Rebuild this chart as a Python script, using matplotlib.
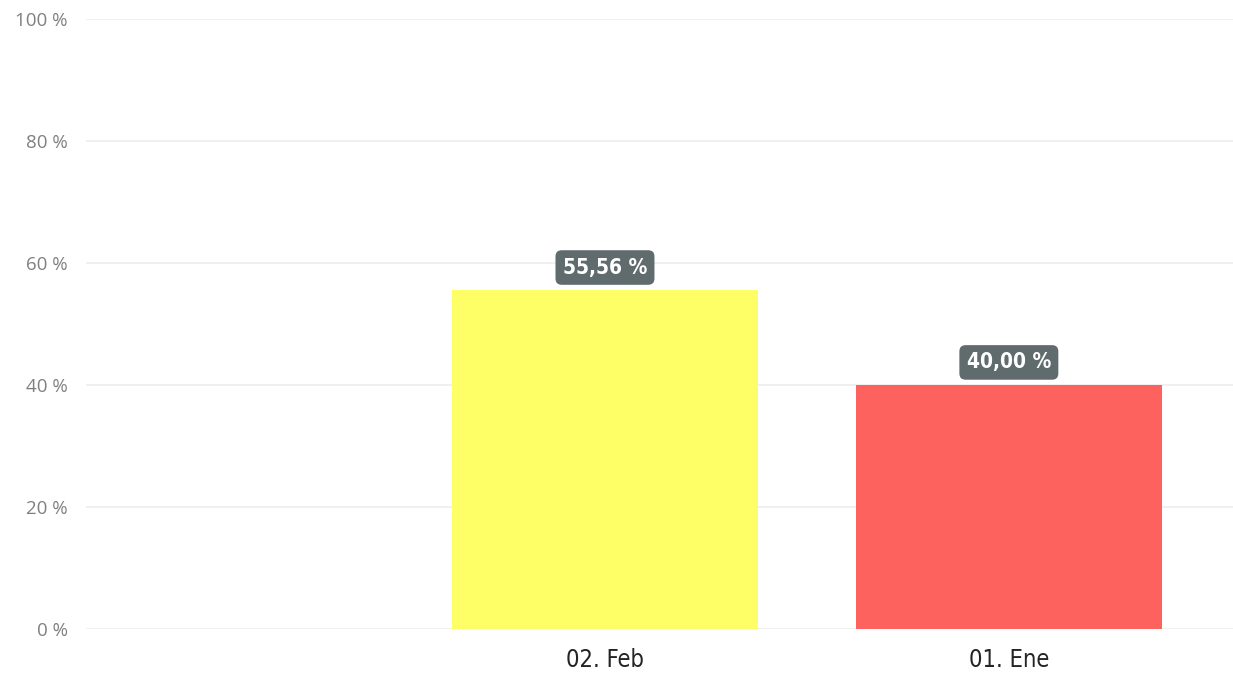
import matplotlib
matplotlib.use("Agg")
import matplotlib.pyplot as plt

# categories and their share (%)
categories = ["", "02. Feb", "01. Ene"]
values = [0.0, 55.56, 40.00]
bar_colors = ["#FFFFFF", "#FEFE66", "#FD625E"]
yticks = [0, 20, 40, 60, 80, 100]

fig = plt.figure(figsize=(12.33, 6.78), dpi=100)
ax = fig.add_axes([86 / 1233, (678 - 629) / 678, 1 - 86 / 1233, 610 / 678])

xpos = list(range(len(categories)))
for i in xpos:
    if values[i] > 0:
        ax.bar(xpos[i], values[i], width=0.757, color=bar_colors[i], zorder=2)
        ax.text(xpos[i], values[i] + 3.7, "{:.2f} %".format(values[i]).replace(".", ","),
                ha="center", va="center", color="white", fontsize=15, fontweight="bold",
                fontstretch="condensed", family="DejaVu Sans",
                bbox=dict(boxstyle="round,pad=0.35,rounding_size=0.3", fc="#5F6B6D", ec="none"),
                zorder=3)

ax.set_xlim(-0.285, 2.555)
ax.set_ylim(0, 100)
ax.set_yticks(yticks)
ax.set_yticklabels(["{} %".format(t) for t in yticks], color="#808080", fontsize=13.5,
                   family=["Open Sans", "DejaVu Sans"])
ax.set_xticks(xpos)
ax.set_xticklabels(categories, color="#252423", fontsize=17,
                   fontstretch="condensed", family="DejaVu Sans")
ax.tick_params(axis="both", length=0)
ax.tick_params(axis="y", pad=13)
ax.tick_params(axis="x", pad=14)
ax.grid(axis="y", color="#EEEEEE", linewidth=1.2, zorder=0)
for s in ax.spines.values():
    s.set_visible(False)

fig.savefig("out.png", dpi=100)
